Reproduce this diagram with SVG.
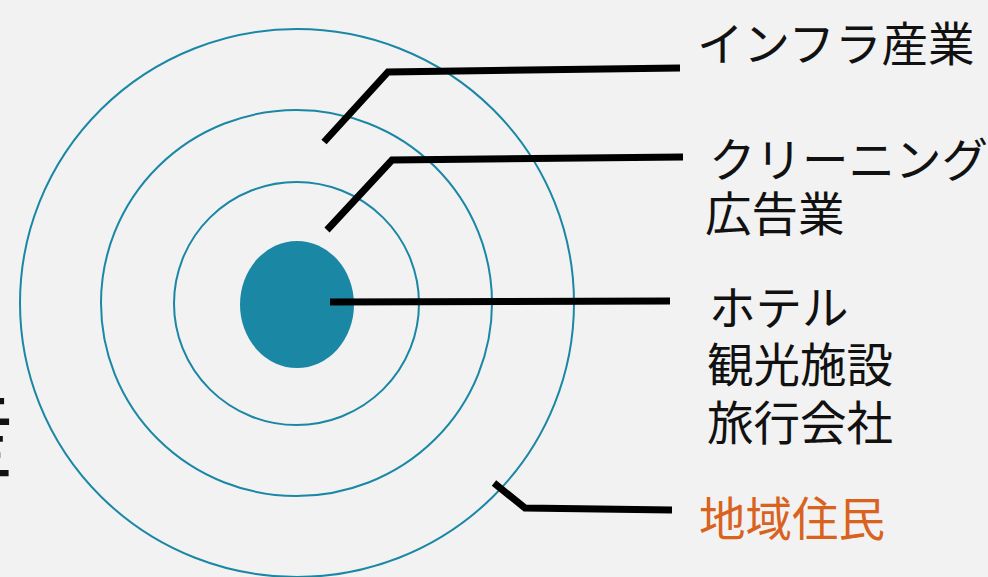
<svg xmlns="http://www.w3.org/2000/svg" width="988" height="577" viewBox="0 0 988 577">
<style>
.ring{fill:none;stroke:#1a87a5;stroke-width:2}
.ln{fill:none;stroke:#000;stroke-width:7;stroke-linejoin:miter;stroke-linecap:butt}
text{font-family:"Noto Sans CJK JP","Noto Sans",sans-serif;font-size:46.5px;fill:#111}
.or{fill:#d9621f}
</style>
<rect width="988" height="577" fill="#f2f2f2"/>
<text x="-82" y="470" style="font-size:96px">産</text>
<g id="rings">
<ellipse id="ring-outer" class="ring" cx="297" cy="303" rx="277" ry="274"/>
<ellipse id="ring-2" class="ring" cx="296.5" cy="303" rx="195.5" ry="193"/>
<ellipse id="ring-3" class="ring" cx="296.5" cy="303.5" rx="122.5" ry="121.5"/>
<ellipse id="core" cx="297" cy="304.5" rx="57" ry="63.5" fill="#1a87a5"/>
</g>
<g id="connectors">
<polyline class="ln" points="324,142 388,72 680,68"/>
<polyline class="ln" points="327,230 392,160 683,157"/>
<polyline class="ln" points="330,302 670,301"/>
<polyline class="ln" points="494,483 525,508 672,510"/>
</g>
<g id="label-infra"><text x="697" y="61">インフラ産業</text></g>
<g id="label-cleaning"><text x="709" y="177">クリーニング</text><text x="705" y="231">広告業</text></g>
<g id="label-hotel"><text x="709" y="325">ホテル</text><text x="707" y="382">観光施設</text><text x="707" y="440">旅行会社</text></g>
<g id="label-residents"><text class="or" x="699" y="536">地域住民</text></g>
</svg>
